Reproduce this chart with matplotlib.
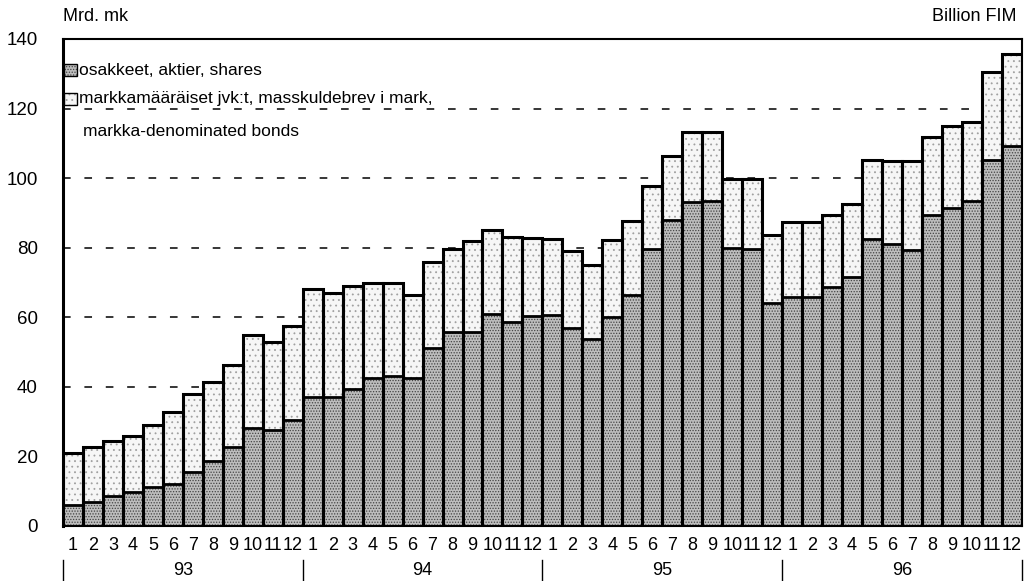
import matplotlib.pyplot as plt
from matplotlib.patches import Rectangle
from matplotlib.transforms import blended_transform_factory

plt.rcParams["font.family"] = ["Liberation Sans", "DejaVu Sans"]
plt.rcParams["hatch.linewidth"] = 0.6

months = list(range(1, 13)) * 4
years = ["93", "94", "95", "96"]

# osakkeet, aktier, shares (bn FIM)
shares = [6.0, 7.0, 8.5, 9.8, 11.2, 12.0, 15.6, 18.8, 22.7, 28.3, 27.6, 30.5,
          37.0, 37.0, 39.3, 42.4, 43.1, 42.4, 51.1, 55.9, 55.9, 60.9, 58.6, 60.5,
          60.6, 57.0, 53.8, 60.2, 66.4, 79.5, 87.9, 93.0, 93.3, 80.0, 79.5, 64.0,
          65.9, 65.9, 68.8, 71.7, 82.4, 81.0, 79.2, 89.3, 91.3, 93.3, 105.1, 109.1]

# markka-denominated bonds (bn FIM)
bonds = [15.0, 15.7, 15.8, 16.1, 17.8, 20.9, 22.4, 22.7, 23.5, 26.7, 25.4, 27.1,
         31.1, 30.1, 29.7, 27.4, 26.7, 24.0, 24.7, 23.7, 26.1, 24.3, 24.6, 22.4,
         21.9, 22.1, 21.3, 22.0, 21.2, 18.1, 18.5, 20.3, 20.0, 19.7, 20.2, 19.6,
         21.5, 21.5, 20.5, 20.8, 22.9, 23.8, 25.6, 22.4, 23.6, 22.7, 25.3, 26.6]

legend_labels = ["osakkeet, aktier, shares",
                 "markkamääräiset jvk:t, masskuldebrev i mark,",
                 "markka-denominated bonds"]

x = list(range(len(shares)))
tops = [s + b for s, b in zip(shares, bonds)]

share_style = dict(facecolor="#bdbdbd", edgecolor="#444444", hatch="......", linewidth=0)
bond_style = dict(facecolor="#f6f6f6", edgecolor="#a0a0a0", hatch="...", linewidth=0)

fig = plt.figure(figsize=(10.27, 5.81), dpi=100)
ax = fig.add_axes([0.0613, 0.0947, 0.9337, 0.8382])

for y in range(20, 140, 20):
    ax.axhline(y, color="black", linestyle=(0, (5, 9)), linewidth=1.1, zorder=0)

ax.bar(x, shares, width=1.0, zorder=2, **share_style)
ax.bar(x, bonds, bottom=shares, width=1.0, zorder=2, **bond_style)
# black outlines
ax.bar(x, shares, width=1.0, facecolor="none", edgecolor="black", linewidth=2.0, zorder=3)
ax.bar(x, tops, width=1.0, facecolor="none", edgecolor="black", linewidth=2.2, zorder=3)

ax.set_xlim(-0.5, len(x) - 0.5)
ax.set_ylim(0, 140)
ax.set_yticks(range(0, 141, 20))
ax.tick_params(axis="y", length=0, labelsize=13.5, pad=18)
ax.set_xticks(x)
ax.set_xticklabels([str(m) for m in months], fontsize=13)
ax.tick_params(axis="x", length=0, pad=8)

for side in ["top", "right", "bottom"]:
    ax.spines[side].set_linewidth(1.5)
ax.spines["left"].set_linewidth(2.2)

# year labels and separators
trans = blended_transform_factory(ax.transData, ax.transAxes)
for i, yr in enumerate(years):
    ax.text(i * 12 + 5.5, -0.092, yr, transform=trans, ha="center", va="center", fontsize=13)
for i in range(len(years) + 1):
    ax.plot([i * 12 - 0.5, i * 12 - 0.5], [-0.07, -0.115], transform=trans,
            color="black", linewidth=1.0, clip_on=False)

# legend
lx, lw, lh = 0.001, 0.014, 0.026
for yy, style in [(0.936, share_style), (0.877, bond_style)]:
    ax.add_patch(Rectangle((lx, yy - lh / 2), lw, lh, transform=ax.transAxes, zorder=4, **style))
    ax.add_patch(Rectangle((lx, yy - lh / 2), lw, lh, transform=ax.transAxes, zorder=5,
                           facecolor="none", edgecolor="black", linewidth=1.0))
ax.text(0.0165, 0.936, legend_labels[0], transform=ax.transAxes, va="center", fontsize=12.5, zorder=5)
ax.text(0.0165, 0.877, legend_labels[1], transform=ax.transAxes, va="center", fontsize=12.5, zorder=5)
ax.text(0.0205, 0.811, legend_labels[2], transform=ax.transAxes, va="center", fontsize=12.5, zorder=5)

fig.text(0.0613, 0.972, "Mrd. mk", ha="left", va="center", fontsize=13)
fig.text(0.990, 0.972, "Billion FIM", ha="right", va="center", fontsize=13)

fig.savefig("out.png", dpi=100)
